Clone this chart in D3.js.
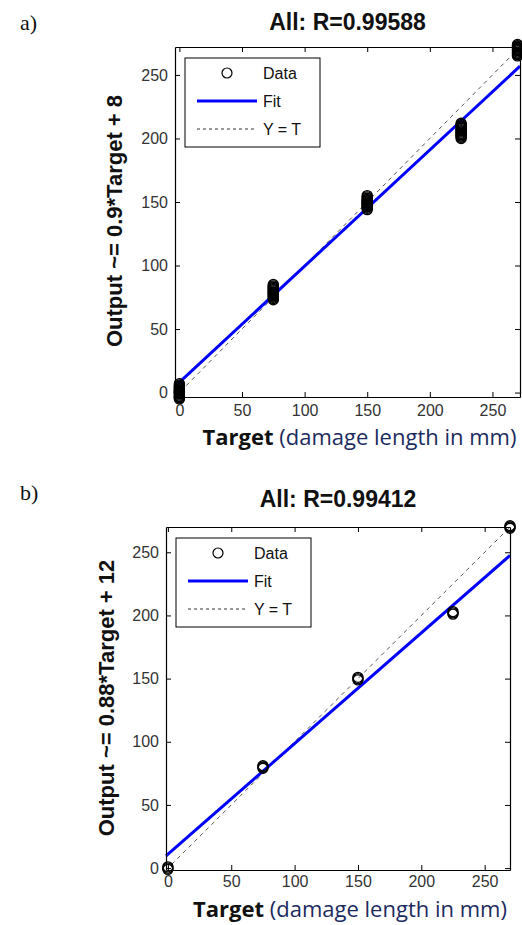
<!DOCTYPE html>
<html>
<head>
<meta charset="utf-8">
<script src="https://cdn.jsdelivr.net/npm/d3@7"></script>
<style>
  html, body { margin: 0; padding: 0; background: #fff; }
  svg { display: block; }
  .tick-lbl { font-family: "Liberation Sans", Arial, sans-serif; font-size: 16px; fill: #333; }
  .ttl { font-family: "Liberation Sans", Arial, sans-serif; font-size: 23px; font-weight: bold; fill: #111; }
  .ylab { font-family: "Liberation Sans", Arial, sans-serif; font-size: 22px; font-weight: bold; fill: #111; }
  .xlab { font-family: "Open Sans", "Noto Sans", sans-serif; font-size: 22px; fill: #1c2b5e; }
  .leg { font-family: "Liberation Sans", Arial, sans-serif; font-size: 16px; fill: #111; }
  .tag { font-family: "Liberation Serif", "Times New Roman", serif; font-size: 22px; fill: #111; }
</style>
</head>
<body>
<svg id="chart" width="522" height="925"></svg>
<script>
/* regression plots: network output vs target damage length */

const TARGETS = [0, 75, 150, 225, 270];
const TICKS = [0, 50, 100, 150, 200, 250];

// panel a) — many overlapping samples per target
const OUT_A = [
  [-5, -3, -4, 0, 2, -1, 4, 6, 1, -2, 3, 5, 0, 2, -3, 7, -1, 1, 4, -4],
  [74, 76, 75, 79, 78, 81, 83, 77, 85, 80, 84, 82, 76, 79, 73, 81, 78, 83],
  [144, 146, 145, 149, 148, 151, 153, 147, 155, 150, 152, 154, 148, 146, 151, 149],
  [200, 202, 201, 205, 204, 207, 209, 203, 211, 206, 212, 210, 208, 203, 206],
  [265, 267, 266, 269, 271, 268, 273, 270, 274, 272, 267, 270, 272]
];
const FIT_A = [0.915, 8];            // slope, intercept of fitted line
const DOMAIN_A = [-3.5, 272];
const TITLE_A = 'All: R=0.99588';
const YLAB_A = 'Output ~= 0.9*Target + 8';

// panel b) — a few near-identical samples per target
const OUT_B = [
  [0, 1, -1],
  [80, 81, 79],
  [150, 151, 149],
  [202, 201, 203],
  [270, 271, 269]
];
const FIT_B = [0.876, 11];
const DOMAIN_B = [-1.5, 270];
const TITLE_B = 'All: R=0.99412';
const YLAB_B = 'Output ~= 0.88*Target + 12';

const LEGEND_ITEMS = ['Data', 'Fit', 'Y = T'];

const svg = d3.select('#chart');

function drawPanel(o) {
  const { box, domain, outs, fit, title, ylab, tag, ylabX } = o;
  const x = d3.scaleLinear().domain(domain).range([box.l, box.r]);
  const y = d3.scaleLinear().domain(domain).range([box.b, box.t]);
  const g = svg.append('g');

  // tag + title
  g.append('text').attr('class', 'tag').attr('x', 20).attr('y', o.tagY).text(tag);
  g.append('text').attr('class', 'ttl')
    .attr('x', (box.l + box.r) / 2).attr('y', box.t - o.titleGap)
    .attr('text-anchor', 'middle').text(title);

  // Y = T reference
  g.append('line')
    .attr('x1', x(domain[0])).attr('y1', y(domain[0]))
    .attr('x2', x(domain[1])).attr('y2', y(domain[1]))
    .attr('stroke', '#555').attr('stroke-width', 1).attr('stroke-dasharray', '4,4');

  // fit line
  g.append('line')
    .attr('x1', x(domain[0])).attr('y1', y(fit[0] * domain[0] + fit[1]))
    .attr('x2', x(domain[1])).attr('y2', y(fit[0] * domain[1] + fit[1]))
    .attr('stroke', '#0000ff').attr('stroke-width', 3);

  // data circles
  const pts = [];
  TARGETS.forEach((t, i) => outs[i].forEach((v) => pts.push({ t, v })));
  g.append('g').selectAll('circle').data(pts).join('circle')
    .attr('cx', (d) => x(d.t)).attr('cy', (d) => y(d.v)).attr('r', 5)
    .attr('fill', 'none').attr('stroke', '#000').attr('stroke-width', 1.4);

  // axes box, inward ticks on all four sides
  const tl = 5;
  const axB = g.append('g').attr('transform', `translate(0,${box.b})`)
    .call(d3.axisBottom(x).tickValues(TICKS).tickSizeInner(-tl).tickSizeOuter(0).tickPadding(o.xPad));
  const axT = g.append('g').attr('transform', `translate(0,${box.t})`)
    .call(d3.axisTop(x).tickValues(TICKS).tickSizeInner(-tl).tickSizeOuter(0).tickFormat(''));
  const axL = g.append('g').attr('transform', `translate(${box.l},0)`)
    .call(d3.axisLeft(y).tickValues(TICKS).tickSizeInner(-tl).tickSizeOuter(0).tickPadding(7));
  const axR = g.append('g').attr('transform', `translate(${box.r},0)`)
    .call(d3.axisRight(y).tickValues(TICKS).tickSizeInner(-tl).tickSizeOuter(0).tickFormat(''));
  [axB, axT, axL, axR].forEach((a) => {
    a.select('.domain').attr('stroke', '#000').attr('stroke-width', 1.2);
    a.selectAll('.tick line').attr('stroke', '#000');
    a.selectAll('.tick text').attr('class', 'tick-lbl').attr('font-size', null).attr('font-family', null).attr('fill', null);
  });
  axB.selectAll('.tick text').attr('dy', '0.71em');

  // axis labels
  g.append('text').attr('class', 'ylab')
    .attr('transform', `translate(${ylabX},${o.ylabY}) rotate(-90)`)
    .attr('text-anchor', 'middle').text(ylab);
  const xl = g.append('text').attr('class', 'xlab')
    .attr('x', (box.l + box.r) / 2 + 12).attr('y', box.b + o.xlabGap).attr('text-anchor', 'middle');
  xl.append('tspan').attr('font-weight', 'bold').attr('fill', '#111').text('Target');
  xl.append('tspan').text(' (damage length in mm)');

  // legend
  const lx = box.l + 10, ly = box.t + 11, lw = 135, lh = 89;
  const lg = g.append('g');
  lg.append('rect').attr('x', lx).attr('y', ly).attr('width', lw).attr('height', lh)
    .attr('fill', '#fff').attr('stroke', '#000').attr('stroke-width', 1);
  LEGEND_ITEMS.forEach((name, i) => {
    const cy = ly + 15 + i * 28;
    if (i === 0) {
      lg.append('circle').attr('cx', lx + 42).attr('cy', cy).attr('r', 5)
        .attr('fill', 'none').attr('stroke', '#000').attr('stroke-width', 1.2);
    } else {
      lg.append('line').attr('x1', lx + 12).attr('x2', lx + 72).attr('y1', cy).attr('y2', cy)
        .attr('stroke', i === 1 ? '#0000ff' : '#333')
        .attr('stroke-width', i === 1 ? 3 : 1)
        .attr('stroke-dasharray', i === 1 ? null : '3,3');
    }
    lg.append('text').attr('class', 'leg').attr('x', lx + 78).attr('y', cy + 6).text(name);
  });
}

drawPanel({
  box: { l: 175, r: 520, t: 47, b: 397 },
  domain: DOMAIN_A, outs: OUT_A, fit: FIT_A,
  title: TITLE_A, ylab: YLAB_A, tag: 'a)', tagY: 30, titleGap: 17,
  ylabX: 122, ylabY: 221, xlabGap: 48, xPad: 8
});
drawPanel({
  box: { l: 166, r: 510, t: 527, b: 870 },
  domain: DOMAIN_B, outs: OUT_B, fit: FIT_B,
  title: TITLE_B, ylab: YLAB_B, tag: 'b)', tagY: 500, titleGap: 20,
  ylabX: 114, ylabY: 698, xlabGap: 47, xPad: 6
});
</script>
</body>
</html>
